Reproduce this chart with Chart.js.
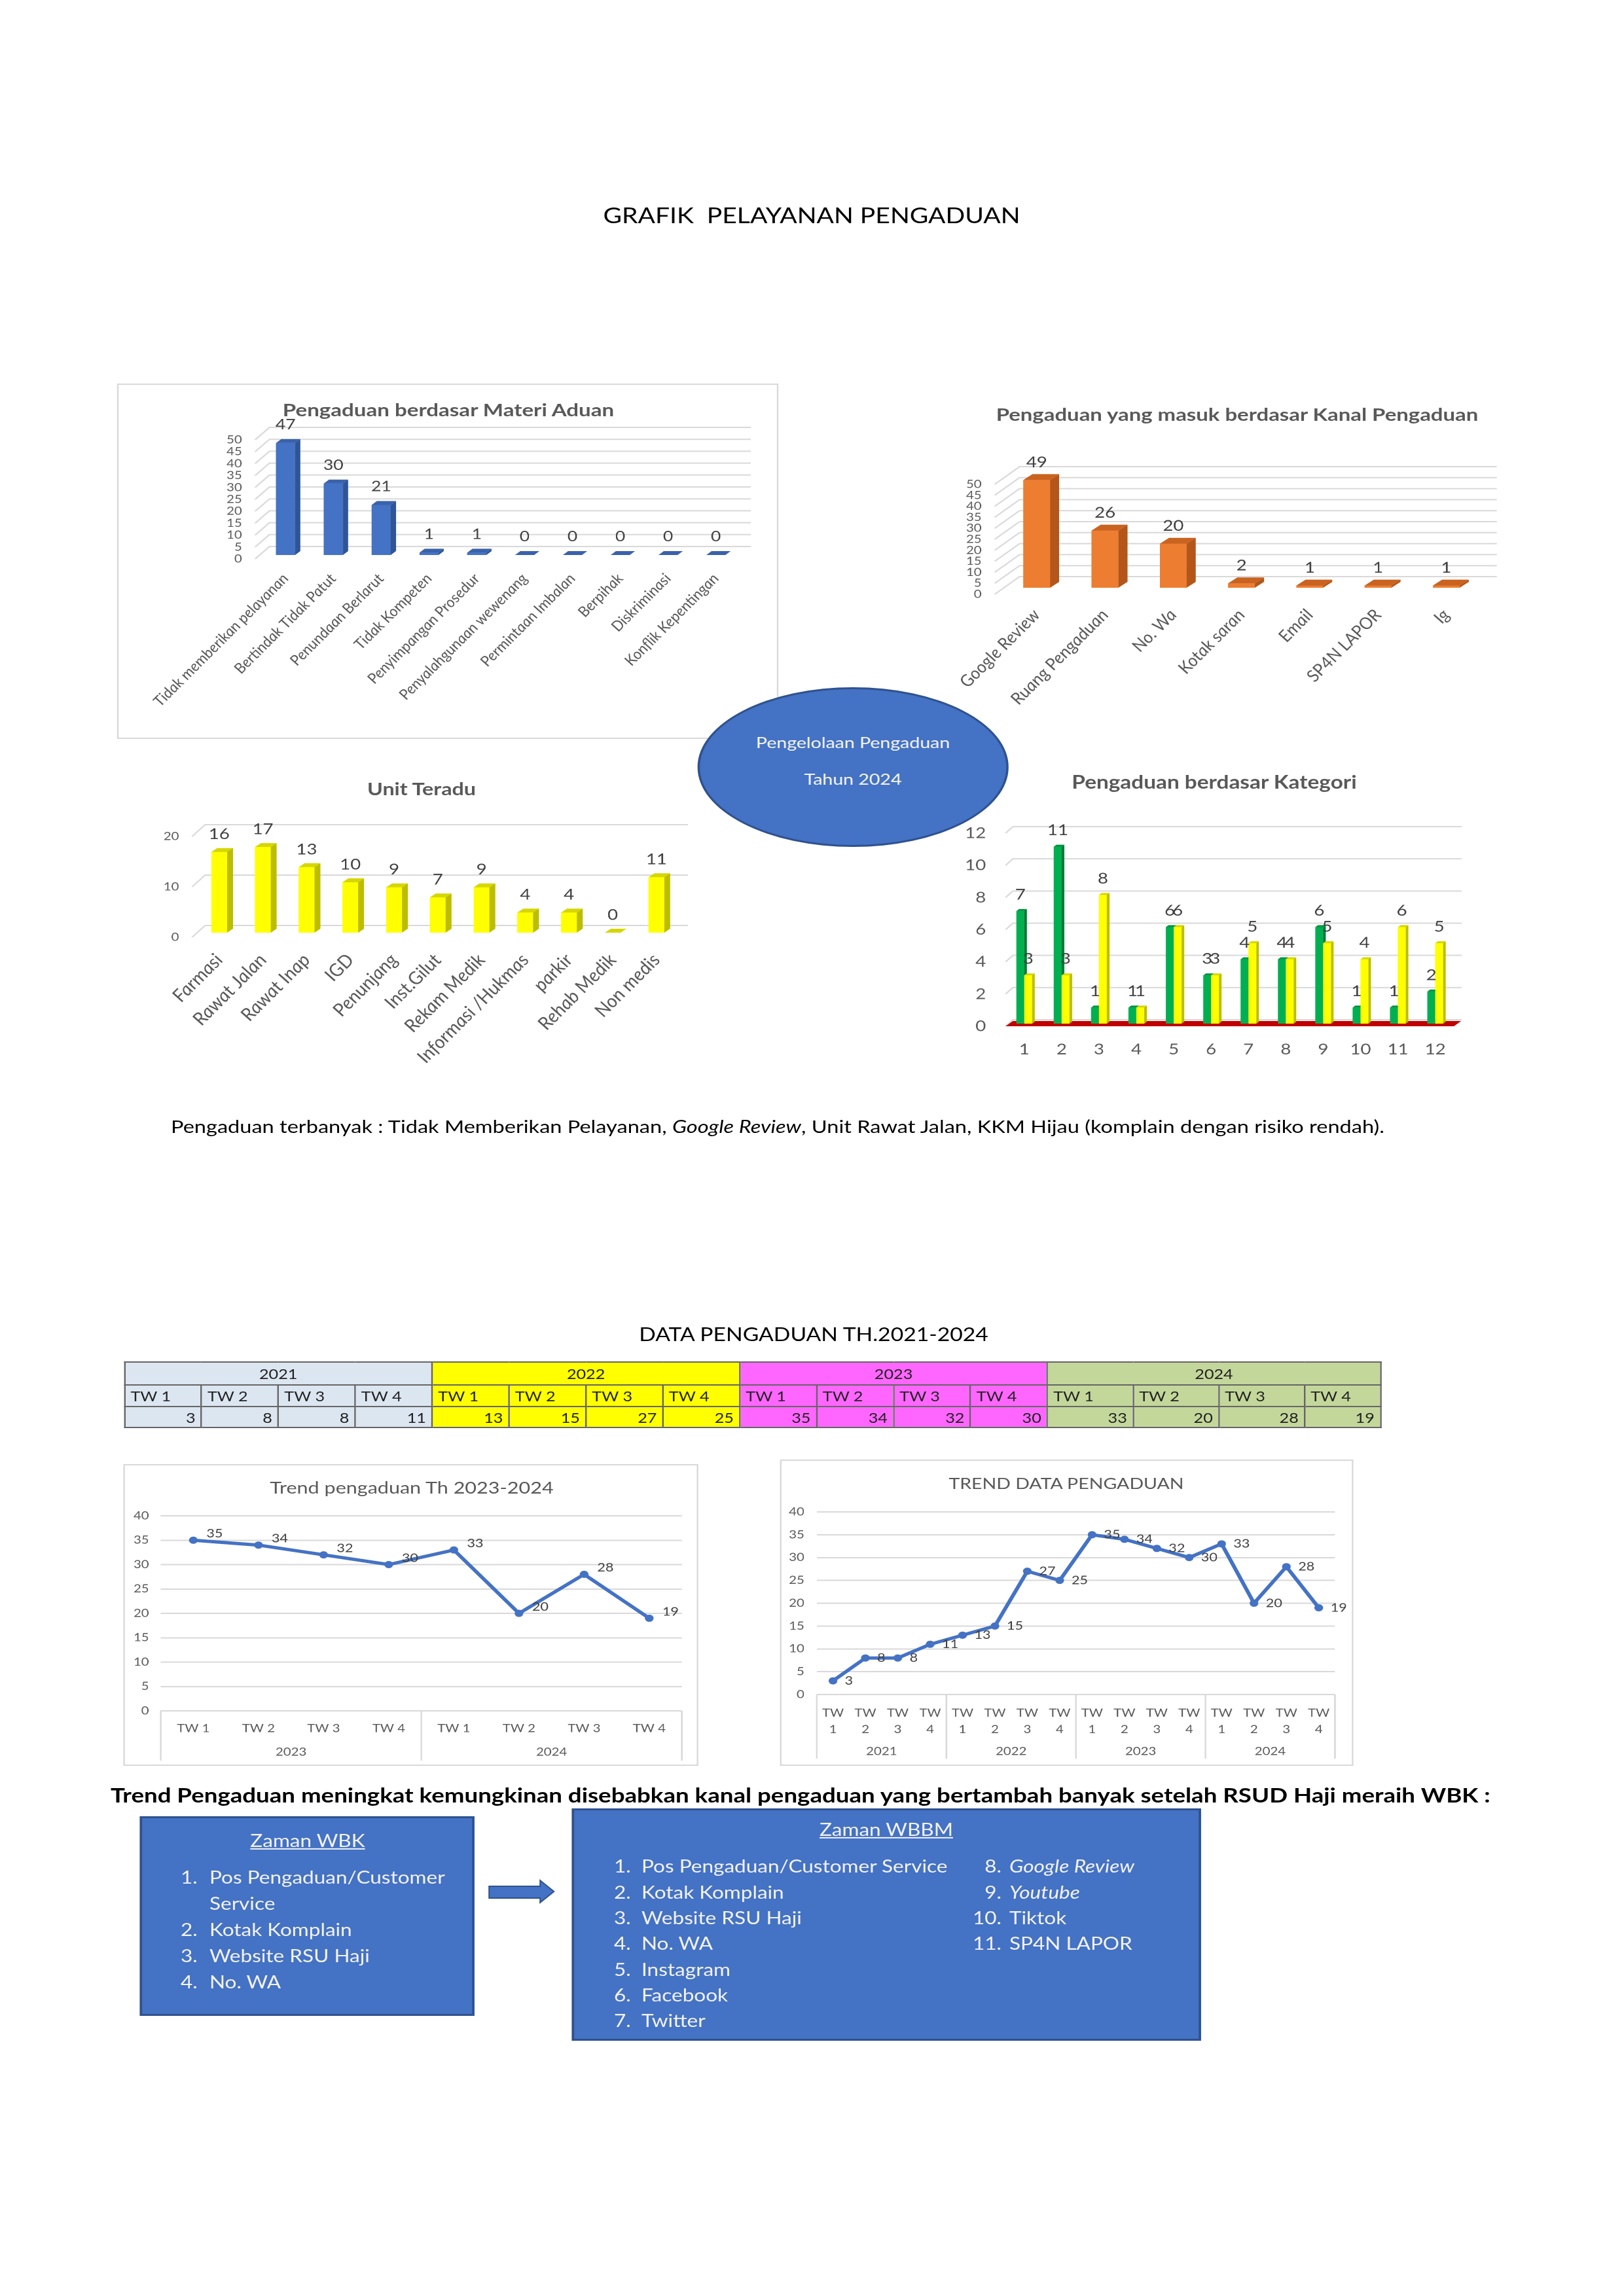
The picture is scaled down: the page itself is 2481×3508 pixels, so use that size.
<!DOCTYPE html>
<html lang="id">
<head>
<meta charset="utf-8">
<title>Grafik Pelayanan Pengaduan</title>
<script src="https://cdn.jsdelivr.net/npm/chart.js@4.4.1/dist/chart.umd.min.js"></script>
<style>
  html, body { margin: 0; padding: 0; background: #fff; }
  body { width: 2481px; height: 3508px; overflow: hidden; position: relative; }
  /* the scanned page is stretched sideways, so the page is laid out narrow and scaled back out */
  #page { position: absolute; left: 0; top: 0; width: 2068px; height: 3508px;
          transform: scaleX(1.2); transform-origin: 0 0;
          font-family: Lato, "Noto Sans", sans-serif; }
  table.data { border-collapse: collapse; table-layout: fixed; color: #222; }
  table.data td { border: 2px solid #666; padding: 0; overflow: hidden; white-space: nowrap; }
</style>
</head>
<body>
<div id="page"></div>
<script>
// ---- data ----
const materiLabels = ["Tidak memberikan pelayanan", "Bertindak Tidak Patut", "Penundaan Berlarut", "Tidak Kompeten",
  "Penyimpangan Prosedur", "Penyalahgunaan wewenang", "Permintaan Imbalan", "Berpihak", "Diskriminasi", "Konflik Kepentingan"];
const materiValues = [47, 30, 21, 1, 1, 0, 0, 0, 0, 0];

const kanalLabels = ["Google Review", "Ruang Pengaduan", "No. Wa", "Kotak saran", "Email", "SP4N LAPOR", "Ig"];
const kanalValues = [49, 26, 20, 2, 1, 1, 1];

const unitLabels = ["Farmasi", "Rawat Jalan", "Rawat Inap", "IGD", "Penunjang", "Inst.Gilut", "Rekam Medik",
  "Informasi /Hukmas", "parkir", "Rehab Medik", "Non medis"];
const unitValues = [16, 17, 13, 10, 9, 7, 9, 4, 4, 0, 11];

const kategoriLabels = ["1", "2", "3", "4", "5", "6", "7", "8", "9", "10", "11", "12"];
const kategoriHijau = [7, 11, 1, 1, 6, 3, 4, 4, 6, 1, 1, 2];
const kategoriKuning = [3, 3, 8, 1, 6, 3, 5, 4, 5, 4, 6, 5];

const years = ["2021", "2022", "2023", "2024"];
const quarters = ["TW 1", "TW 2", "TW 3", "TW 4"];
const pengaduan2021 = [3, 8, 8, 11];
const pengaduan2022 = [13, 15, 27, 25];
const pengaduan2023 = [35, 34, 32, 30];
const pengaduan2024 = [33, 20, 28, 19];

const wbkItems = ["Pos Pengaduan/Customer Service", "Kotak Komplain", "Website RSU Haji", "No. WA"];
const wbbmItems = ["Pos Pengaduan/Customer Service", "Kotak Komplain", "Website RSU Haji", "No. WA",
  "Instagram", "Facebook", "Twitter", "Google Review", "Youtube", "Tiktok", "SP4N LAPOR"];
const italicItems = ["Google Review", "Youtube"];

// ---- helpers ----
const FONT = "Lato";
const S = 1.2;              // horizontal stretch of the page
const X = v => v / S;       // page x (as seen) -> layout x
const page = document.getElementById("page");
Chart.defaults.font.family = FONT;

function box(x, y, w, h, css) {
  const d = document.createElement("div");
  Object.assign(d.style, { position: "absolute", left: X(x) + "px", top: y + "px",
    width: X(w) + "px", height: h + "px", boxSizing: "border-box" }, css || {});
  page.appendChild(d);
  return d;
}

function fitSize(html, size, target, css) {
  const d = document.createElement("span");
  d.innerHTML = html;
  Object.assign(d.style, { position: "absolute", whiteSpace: "pre", fontSize: size + "px", visibility: "hidden" }, css || {});
  page.appendChild(d);
  const w = d.offsetWidth * S;
  page.removeChild(d);
  return size * target / w;
}

function text(html, x, y, o) {
  const css = { fontWeight: o.bold ? "700" : "400", fontStyle: o.italic ? "italic" : "normal" };
  const size = o.fit ? fitSize(html, o.size, o.fit, css) : o.size;
  const d = document.createElement("div");
  d.innerHTML = html;
  Object.assign(d.style, css, { position: "absolute", left: X(x) + "px", top: y + "px", whiteSpace: "pre",
    lineHeight: "1", fontSize: size + "px", color: o.color || "#000", zIndex: o.z || 2,
    textDecoration: o.underline ? "underline" : "none",
    transform: "translate(" + (o.left ? "0" : "-50%") + ", -50%)" });
  page.appendChild(d);
  return size;
}

function list(items, o) {
  const d = document.createElement("div");
  Object.assign(d.style, { position: "absolute", left: X(o.x) + "px", top: (o.y - o.step / 2) + "px",
    width: X(o.w) + "px", lineHeight: o.step + "px", fontSize: o.size + "px", color: "#F2F2F2", zIndex: 3 });
  items.forEach((it, i) => {
    const row = document.createElement("div");
    row.style.display = "flex";
    const num = document.createElement("span");
    num.textContent = (o.start + i) + ".";
    Object.assign(num.style, { flex: "0 0 " + X(o.numW) + "px", boxSizing: "border-box",
      textAlign: o.numAlign || "left", paddingRight: X(o.gap || 0) + "px" });
    const t = document.createElement("span");
    t.textContent = it;
    if (italicItems.includes(it)) t.style.fontStyle = "italic";
    row.append(num, t);
    d.appendChild(row);
  });
  page.appendChild(d);
}

// canvas in frame, with the plot area pinned to area (page coords)
function chartCanvas(frame, area) {
  const wrap = box(frame.x, frame.y, frame.w, frame.h);
  const cv = document.createElement("canvas");
  wrap.appendChild(cv);
  return { cv, L: X(area.l - frame.x), R: X(frame.x + frame.w - area.r), T: area.t - frame.y, B: frame.y + frame.h - area.b };
}

function baseOptions(c) {
  return {
    responsive: true, maintainAspectRatio: false, animation: false, devicePixelRatio: 2,
    layout: { padding: { left: 0, right: c.R, top: c.T, bottom: 0 }, autoPadding: false },
    plugins: { legend: { display: false }, tooltip: { enabled: false } }
  };
}

// 3D look for the bar charts: back-wall grid, side/top faces, value labels
const bar3dPlugin = {
  id: "bar3d",
  beforeDatasetsDraw(chart, args, o) {
    const { ctx, chartArea: a, scales: { y } } = chart;
    ctx.save();
    ctx.strokeStyle = "#d9d9d9";
    ctx.lineWidth = 2;
    y.ticks.forEach(t => {
      const py = y.getPixelForValue(t.value);
      ctx.beginPath();
      ctx.moveTo(a.left + X(o.wall.x0), py);
      ctx.lineTo(a.left + X(o.wall.x0 + o.wall.dx), py - o.wall.dy);
      ctx.lineTo(a.right + X(o.wall.ext), py - o.wall.dy);
      ctx.stroke();
    });
    if (o.floor) {
      const py = y.getPixelForValue(0);
      ctx.fillStyle = o.floor.color;
      ctx.beginPath();
      ctx.moveTo(a.left, py);
      ctx.lineTo(a.right, py);
      ctx.lineTo(a.right + X(o.floor.dx), py - o.floor.dy);
      ctx.lineTo(a.left + X(o.floor.dx), py - o.floor.dy);
      ctx.closePath();
      ctx.fill();
    }
    ctx.restore();
    ctx.save();
    ctx.translate(X(o.shift.ox), -o.shift.oy);
  },
  afterDatasetsDraw(chart, args, o) {
    const { ctx } = chart;
    const dx = X(o.depth.dx), dy = o.depth.dy;
    const metas = chart.data.datasets.map((d, i) => chart.getDatasetMeta(i));
    metas.forEach((meta, i) => {
      const ds = chart.data.datasets[i];
      const next = metas[i + 1];
      meta.data.forEach((bar, j) => {
        const p = bar.getProps(["x", "y", "base", "width"], true);
        const l = p.x - p.width / 2, r = p.x + p.width / 2;
        bar.draw(ctx);
        let low = p.base;
        if (next) low = Math.min(low, next.data[j].getProps(["y"], true).y);
        if (low > p.y) {
          ctx.fillStyle = ds.side;
          ctx.beginPath();
          ctx.moveTo(r, p.y);
          ctx.lineTo(r + dx, p.y - dy);
          ctx.lineTo(r + dx, low - dy);
          ctx.lineTo(r, low);
          ctx.closePath();
          ctx.fill();
        }
        ctx.fillStyle = ds.top;
        ctx.beginPath();
        ctx.moveTo(l, p.y);
        ctx.lineTo(l + dx, p.y - dy);
        ctx.lineTo(r + dx, p.y - dy);
        ctx.lineTo(r, p.y);
        ctx.closePath();
        ctx.fill();
      });
    });
    ctx.fillStyle = "#404040";
    ctx.font = o.valueSize + "px " + FONT;
    ctx.textAlign = "center";
    ctx.textBaseline = "middle";
    metas.forEach((meta, i) => {
      meta.data.forEach((bar, j) => {
        const p = bar.getProps(["x", "y"], true);
        ctx.fillText(String(chart.data.datasets[i].data[j]), p.x, p.y - o.valueGap);
      });
    });
    ctx.restore();
  }
};

function bar3d(frame, area, labels, sets, o) {
  const c = chartCanvas(frame, area);
  const opts = baseOptions(c);
  opts.plugins.bar3d = o;
  opts.scales = {
    x: { grid: { display: false, drawTicks: false }, border: { display: false },
      ticks: { autoSkip: false, minRotation: o.rotation, maxRotation: o.rotation, padding: o.xPad, color: "#595959",
        font: { family: FONT, size: o.xSize, style: o.rotation ? "italic" : "normal" } },
      afterFit: s => { s.height = c.B; } },
    y: { min: 0, max: o.max, grid: { display: false, drawTicks: false }, border: { display: false },
      ticks: { stepSize: o.step, padding: X(o.yPad), color: "#595959",
        font: { family: FONT, size: o.ySize, lineHeight: 0.8 } },
      afterFit: s => { s.width = c.L; } }
  };
  new Chart(c.cv, {
    type: "bar",
    data: { labels, datasets: sets.map(s => ({ data: s.data, backgroundColor: s.front, side: s.side, top: s.top,
      categoryPercentage: o.catPct, barPercentage: o.barPct })) },
    options: opts,
    plugins: [bar3dPlugin]
  });
}

// year groups under the quarter labels, and value labels beside the points
const trendPlugin = {
  id: "trend",
  afterDatasetsDraw(chart, args, o) {
    const { ctx, chartArea: a, scales: { x } } = chart;
    const n = chart.data.labels.length, per = n / o.groups.length;
    const step = x.getPixelForValue(1) - x.getPixelForValue(0);
    ctx.save();
    ctx.strokeStyle = "#d9d9d9";
    ctx.lineWidth = 2;
    for (let g = 0; g <= o.groups.length; g++) {
      const px = g * per < n ? x.getPixelForValue(g * per) - step / 2 : x.getPixelForValue(n - 1) + step / 2;
      ctx.beginPath();
      ctx.moveTo(px, a.bottom);
      ctx.lineTo(px, a.bottom + o.sepDrop);
      ctx.stroke();
    }
    ctx.fillStyle = "#595959";
    ctx.font = o.tickSize + "px " + FONT;
    ctx.textAlign = "center";
    ctx.textBaseline = "middle";
    o.groups.forEach((g, k) => {
      const px = (x.getPixelForValue(k * per) + x.getPixelForValue(k * per + per - 1)) / 2;
      ctx.fillText(g, px, a.bottom + o.yearDy);
    });
    ctx.fillStyle = "#404040";
    ctx.font = o.valueSize + "px " + FONT;
    ctx.textAlign = "left";
    const meta = chart.getDatasetMeta(0);
    meta.data.forEach((pt, j) => {
      ctx.fillText(String(chart.data.datasets[0].data[j]), pt.x + X(o.labelDx), pt.y + o.labelDy);
    });
    ctx.restore();
  }
};

function trend(frame, area, labels, values, o) {
  const c = chartCanvas(frame, area);
  const opts = baseOptions(c);
  opts.plugins.trend = o;
  opts.scales = {
    x: { offset: true, grid: { display: false, drawTicks: false }, border: { display: false },
      ticks: { autoSkip: false, minRotation: 0, maxRotation: 0, padding: o.xPad, color: "#595959",
        font: { family: FONT, size: o.tickSize, lineHeight: o.lineHeight || 1.2 } },
      afterFit: s => { s.height = c.B; } },
    y: { min: 0, max: 40, grid: { color: "#d9d9d9", lineWidth: 2, drawTicks: false }, border: { display: false },
      ticks: { stepSize: 5, padding: X(o.yPad), color: "#595959", font: { family: FONT, size: o.tickSize, lineHeight: 0.8 } },
      afterFit: s => { s.width = c.L; } }
  };
  new Chart(c.cv, {
    type: "line",
    data: { labels, datasets: [{ data: values, borderColor: "#4472C4", borderWidth: 5, tension: 0, clip: false,
      pointRadius: 5.5, pointBackgroundColor: "#4472C4", pointBorderColor: "#4472C4", pointBorderWidth: 0 }] },
    options: opts,
    plugins: [trendPlugin]
  });
}

// ---- page ----
text("GRAFIK  PELAYANAN PENGADUAN", 1240, 329, { size: 34, fit: 637 });

// Materi aduan
box(179, 586, 1010, 543, { border: "2px solid #d9d9d9" });
bar3d({ x: 181, y: 588, w: 1006, h: 539 }, { l: 399.5, r: 1130, t: 672, b: 854 }, materiLabels,
  [{ data: materiValues, front: "#4472C4", side: "#2F5597", top: "#3A62AC" }],
  { max: 50, step: 5, ySize: 17, yPad: 30, xSize: 21, xPad: 18, rotation: 50, catPct: 0.8, barPct: 0.5,
    depth: { dx: 8, dy: 6 }, shift: { ox: 0, oy: 6 }, wall: { x0: -10, dx: 22, dy: 19, ext: 17 },
    valueSize: 22, valueGap: 28 });
text("Pengaduan berdasar Materi Aduan", 685, 626, { size: 28, bold: true, color: "#595959", fit: 507 });

// Kanal pengaduan
bar3d({ x: 1420, y: 660, w: 900, h: 440 }, { l: 1532, r: 2262, t: 740, b: 908 }, kanalLabels,
  [{ data: kanalValues, front: "#ED7D31", side: "#B4561A", top: "#C9631F" }],
  { max: 50, step: 5, ySize: 17, yPad: 32, xSize: 24, xPad: 18, rotation: 50, catPct: 0.8, barPct: 0.49,
    depth: { dx: 14, dy: 9 }, shift: { ox: 0, oy: 10 }, wall: { x0: -12, dx: 38, dy: 27, ext: 25 },
    valueSize: 23, valueGap: 27 });
text("Pengaduan yang masuk berdasar Kanal Pengaduan", 1890, 633, { size: 28, bold: true, color: "#595959", fit: 737 });

// Unit teradu
bar3d({ x: 179, y: 1230, w: 900, h: 440 }, { l: 301.6, r: 1036.4, t: 1278, b: 1432 }, unitLabels,
  [{ data: unitValues, front: "#FFFF00", side: "#BDBD00", top: "#D6D600" }],
  { max: 20, step: 10, ySize: 17, yPad: 28, xSize: 26, xPad: 20, rotation: 50, catPct: 0.8, barPct: 0.45,
    depth: { dx: 9, dy: 6 }, shift: { ox: 0, oy: 7 }, wall: { x0: -8, dx: 20, dy: 18, ext: 15 },
    valueSize: 23, valueGap: 27 });
text("Unit Teradu", 644, 1205, { size: 28, bold: true, color: "#595959", fit: 166 });

// Kategori
bar3d({ x: 1420, y: 1230, w: 850, h: 400 }, { l: 1536.5, r: 2220.5, t: 1273, b: 1568 }, kategoriLabels,
  [{ data: kategoriHijau, front: "#00B050", side: "#007A37", top: "#00923F" },
   { data: kategoriKuning, front: "#FFFF00", side: "#BDBD00", top: "#D6D600" }],
  { max: 12, step: 2, ySize: 23, yPad: 30, xSize: 23, xPad: 22, rotation: 0, catPct: 0.42, barPct: 1,
    depth: { dx: 4, dy: 3 }, shift: { ox: 0, oy: 4 }, wall: { x0: 0, dx: 11, dy: 10, ext: 12 },
    floor: { dx: 11, dy: 8, color: "#C00000" }, valueSize: 23, valueGap: 25 });
text("Pengaduan berdasar Kategori", 1855, 1195, { size: 28, bold: true, color: "#595959", fit: 436 });

// centre ellipse
box(1065, 1050, 476, 244, { borderRadius: "50%", background: "#4472C4", border: "3px solid #2F528F", zIndex: 5 });
const ellSize = text("Pengelolaan Pengaduan", 1303, 1135, { size: 24, color: "#F2F2F2", fit: 297, z: 6 });
text("Tahun 2024", 1303, 1191, { size: ellSize, color: "#F2F2F2", z: 6 });

text("Pengaduan terbanyak : Tidak Memberikan Pelayanan, <i>Google Review</i>, Unit Rawat Jalan, KKM Hijau (komplain dengan risiko rendah).",
  261, 1721, { size: 26, left: true, fit: 1855 });

// data table
text("DATA PENGADUAN TH.2021-2024", 1243, 2038, { size: 30, fit: 534 });
const yearColors = ["#DCE6F1", "#FFFF00", "#FF66FF", "#C4D79B"];
const colWidths = [117.5, 117.5, 117.5, 117.5, 117.5, 117.5, 117.5, 117.5, 117.5, 117.5, 117.5, 117.5, 131, 131, 131, 116];
const yearValues = [pengaduan2021, pengaduan2022, pengaduan2023, pengaduan2024];
const tbl = document.createElement("table");
tbl.className = "data";
Object.assign(tbl.style, { position: "absolute", left: X(189) + "px", top: "2080px", fontSize: "21px" });
const cg = document.createElement("colgroup");
colWidths.forEach(w => { const col = document.createElement("col"); col.style.width = X(w) + "px"; cg.appendChild(col); });
tbl.appendChild(cg);
const rowYear = tbl.insertRow(), rowTw = tbl.insertRow(), rowVal = tbl.insertRow();
rowYear.style.height = "35px"; rowTw.style.height = "33px"; rowVal.style.height = "32px";
years.forEach((yr, k) => {
  const c = rowYear.insertCell();
  c.colSpan = 4; c.textContent = yr; c.style.textAlign = "center"; c.style.background = yearColors[k];
  quarters.forEach((q, j) => {
    const t = rowTw.insertCell();
    t.textContent = q; t.style.background = yearColors[k]; t.style.paddingLeft = X(8) + "px";
    const v = rowVal.insertCell();
    v.textContent = yearValues[k][j]; v.style.background = yearColors[k];
    v.style.textAlign = "right"; v.style.paddingRight = X(8) + "px";
  });
});
page.appendChild(tbl);

// trend charts
box(188, 2237, 879, 461, { border: "2px solid #d9d9d9" });
trend({ x: 190, y: 2290, w: 876, h: 406 }, { l: 246, r: 1042, t: 2316, b: 2614 },
  quarters.concat(quarters), pengaduan2023.concat(pengaduan2024),
  { groups: ["2023", "2024"], tickSize: 17, valueSize: 18, yPad: 18, xPad: 17, yearDy: 63, sepDrop: 76,
    labelDx: 20, labelDy: -10 });
text("Trend pengaduan Th 2023-2024", 629, 2273, { size: 24, color: "#595959", fit: 434 });

box(1191, 2230, 876, 468, { border: "2px solid #d9d9d9" });
const allQuarters = [];
years.forEach(() => quarters.forEach(q => allQuarters.push(q.split(" "))));
trend({ x: 1193, y: 2285, w: 872, h: 411 }, { l: 1248, r: 2039, t: 2310, b: 2589 },
  allQuarters, pengaduan2021.concat(pengaduan2022, pengaduan2023, pengaduan2024),
  { groups: years, tickSize: 17, valueSize: 18, yPad: 19, xPad: 16, lineHeight: 1.47, yearDy: 87, sepDrop: 98,
    labelDx: 18, labelDy: 0 });
text("TREND DATA PENGADUAN", 1629, 2267, { size: 24, color: "#595959", fit: 360 });

text("Trend Pengaduan meningkat kemungkinan disebabkan kanal pengaduan yang bertambah banyak setelah RSUD Haji meraih WBK :",
  169, 2743, { size: 30, bold: true, left: true, fit: 2109 });

// WBK -> WBBM boxes
const listSize = fitSize("Pos Pengaduan/Customer", 24, 360);
box(213, 2775, 512, 305, { background: "#4472C4", border: "3px solid #2F528F" });
text("Zaman WBK", 470, 2812, { size: listSize, color: "#F2F2F2", underline: true, z: 3 });
list(wbkItems, { x: 276, y: 2868, w: 429, numW: 44, step: 40, size: listSize, start: 1 });

const arrow = document.createElementNS("http://www.w3.org/2000/svg", "svg");
arrow.setAttribute("viewBox", "0 0 105 40");
arrow.setAttribute("preserveAspectRatio", "none");
Object.assign(arrow.style, { position: "absolute", left: X(745) + "px", top: "2870px", width: X(105) + "px", height: "40px" });
arrow.innerHTML = '<polygon points="2,12 80,12 80,3 101,20 80,37 80,30 2,30" fill="#4472C4" stroke="#2F528F" stroke-width="2"/>';
page.appendChild(arrow);

box(873, 2763, 962, 355, { background: "#4472C4", border: "3px solid #2F528F" });
text("Zaman WBBM", 1354, 2795, { size: listSize, color: "#F2F2F2", underline: true, z: 3 });
list(wbbmItems.slice(0, 7), { x: 938, y: 2852, w: 560, numW: 42, step: 39.3, size: listSize, start: 1 });
list(wbbmItems.slice(7), { x: 1468, y: 2852, w: 360, numW: 74, gap: 12, numAlign: "right", step: 39.3, size: listSize, start: 8 });
</script>
</body>
</html>
